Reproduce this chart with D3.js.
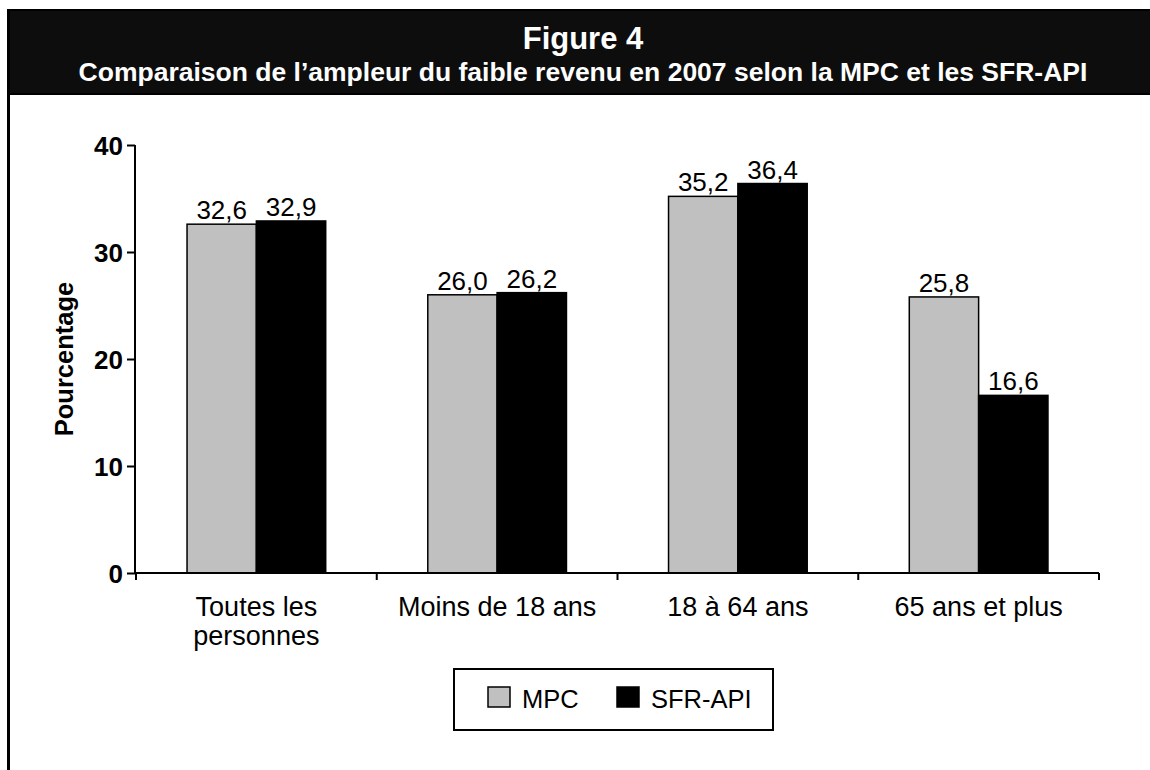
<!DOCTYPE html>
<html>
<head>
<meta charset="utf-8">
<title>Figure 4</title>
<script src="https://d3js.org/d3.v7.min.js"></script>
<style>
  body { margin: 0; background: #fff; }
  svg { display: block; font-family: Arial, "Liberation Sans", Helvetica, sans-serif; }
</style>
</head>
<body>
<svg id="chart" width="1150" height="770"></svg>
<script>
// data
var categories = [["Toutes les", "personnes"], ["Moins de 18 ans"], ["18 à 64 ans"], ["65 ans et plus"]];
var series = ["MPC", "SFR-API"];
var mpc = [32.6, 26.0, 35.2, 25.8];
var sfr = [32.9, 26.2, 36.4, 16.6];
var yTicks = [0, 10, 20, 30, 40];
var colors = ["#c0c0c0", "#000000"];

var svg = d3.select("#chart");
var fmt = function(v) { return d3.format(".1f")(v).replace(".", ","); };

// header band + left frame line
svg.append("rect").attr("x", 8).attr("y", 10).attr("width", 1150).attr("height", 84)
  .attr("fill", "#0d0d0d").attr("stroke", "#000").attr("stroke-width", 2);
svg.append("line").attr("x1", 8.5).attr("x2", 8.5).attr("y1", 10).attr("y2", 770)
  .attr("stroke", "#000").attr("stroke-width", 3);

svg.append("text").attr("x", 583).attr("y", 49).attr("text-anchor", "middle")
  .attr("fill", "#fff").attr("font-weight", "bold").attr("font-size", 31)
  .text("Figure 4");
svg.append("text").attr("x", 583).attr("y", 81).attr("text-anchor", "middle")
  .attr("fill", "#fff").attr("font-weight", "bold").attr("font-size", 26.5)
  .text("Comparaison de l\u2019ampleur du faible revenu en 2007 selon la MPC et les SFR-API");

// scales
var x0 = d3.scaleBand().domain(d3.range(categories.length)).range([136, 1099]);
var bw = x0.bandwidth();
var x1 = d3.scaleBand().domain(series).range([bw * 0.212, bw * 0.788]);
var y = d3.scaleLinear().domain([0, 40]).range([573, 145]);

var rows = categories.map(function(c, i) { return { i: i, vals: [mpc[i], sfr[i]] }; });

var groups = svg.append("g").selectAll("g").data(rows).enter().append("g")
  .attr("transform", function(d) { return "translate(" + x0(d.i) + ",0)"; });

groups.selectAll("rect").data(function(d) {
    return d.vals.map(function(v, k) { return { s: series[k], v: v, k: k }; });
  }).enter().append("rect")
  .attr("x", function(d) { return x1(d.s); })
  .attr("y", function(d) { return y(d.v); })
  .attr("width", x1.bandwidth())
  .attr("height", function(d) { return y(0) - y(d.v); })
  .attr("fill", function(d) { return colors[d.k]; })
  .attr("stroke", "#000").attr("stroke-width", 1.5);

groups.selectAll("text.val").data(function(d) {
    return d.vals.map(function(v, k) { return { s: series[k], v: v }; });
  }).enter().append("text").attr("class", "val")
  .attr("x", function(d) { return x1(d.s) + x1.bandwidth() / 2; })
  .attr("y", function(d) { return y(d.v) - 5; })
  .attr("text-anchor", "middle").attr("font-size", 26).attr("fill", "#000")
  .text(function(d) { return fmt(d.v); });

// y axis
var yAxis = svg.append("g").attr("transform", "translate(135,0)")
  .call(d3.axisLeft(y).tickValues(yTicks).tickSize(8).tickPadding(4));
yAxis.select(".domain").attr("stroke-width", 2).attr("d", "M0," + y(40) + "V" + y(0));
yAxis.selectAll(".tick line").attr("stroke-width", 2);
yAxis.selectAll(".tick text").attr("font-size", 26).attr("font-weight", "bold")
  .attr("font-family", "Arial, 'Liberation Sans', sans-serif").attr("dy", "0.36em");

// x axis: line with ticks at category boundaries
var xg = svg.append("g").attr("transform", "translate(0," + y(0) + ")");
xg.append("line").attr("x1", 135).attr("x2", 1099).attr("stroke", "#000").attr("stroke-width", 2);
var bounds = d3.range(categories.length + 1).map(function(i) { return 136 + i * bw; });
xg.selectAll("line.tk").data(bounds).enter().append("line").attr("class", "tk")
  .attr("x1", function(d) { return d; }).attr("x2", function(d) { return d; })
  .attr("y1", 0).attr("y2", 7).attr("stroke", "#000").attr("stroke-width", 2);

svg.append("g").selectAll("text").data(categories).enter().append("text")
  .attr("text-anchor", "middle").attr("font-size", 27).attr("fill", "#000")
  .attr("transform", function(d, i) { return "translate(" + (x0(i) + bw / 2) + ",616)"; })
  .selectAll("tspan").data(function(d) { return d; }).enter().append("tspan")
  .attr("x", 0).attr("dy", function(d, j) { return j ? 29 : 0; })
  .text(function(d) { return d; });

// y title
svg.append("text").attr("transform", "translate(73,359) rotate(-90)")
  .attr("text-anchor", "middle").attr("font-size", 25.5).attr("font-weight", "bold")
  .text("Pourcentage");

// legend
var lg = svg.append("g");
lg.append("rect").attr("x", 454).attr("y", 669).attr("width", 319).attr("height", 61)
  .attr("fill", "#fff").attr("stroke", "#000").attr("stroke-width", 2);
var items = lg.selectAll("g").data(series).enter().append("g")
  .attr("transform", function(d, i) { return "translate(" + [488, 617][i] + ",687)"; });
items.append("rect").attr("width", 22).attr("height", 20)
  .attr("fill", function(d, i) { return colors[i]; }).attr("stroke", "#000").attr("stroke-width", 1.5);
items.append("text").attr("x", 34).attr("y", 21).attr("font-size", 25.5).text(function(d) { return d; });
</script>
</body>
</html>
